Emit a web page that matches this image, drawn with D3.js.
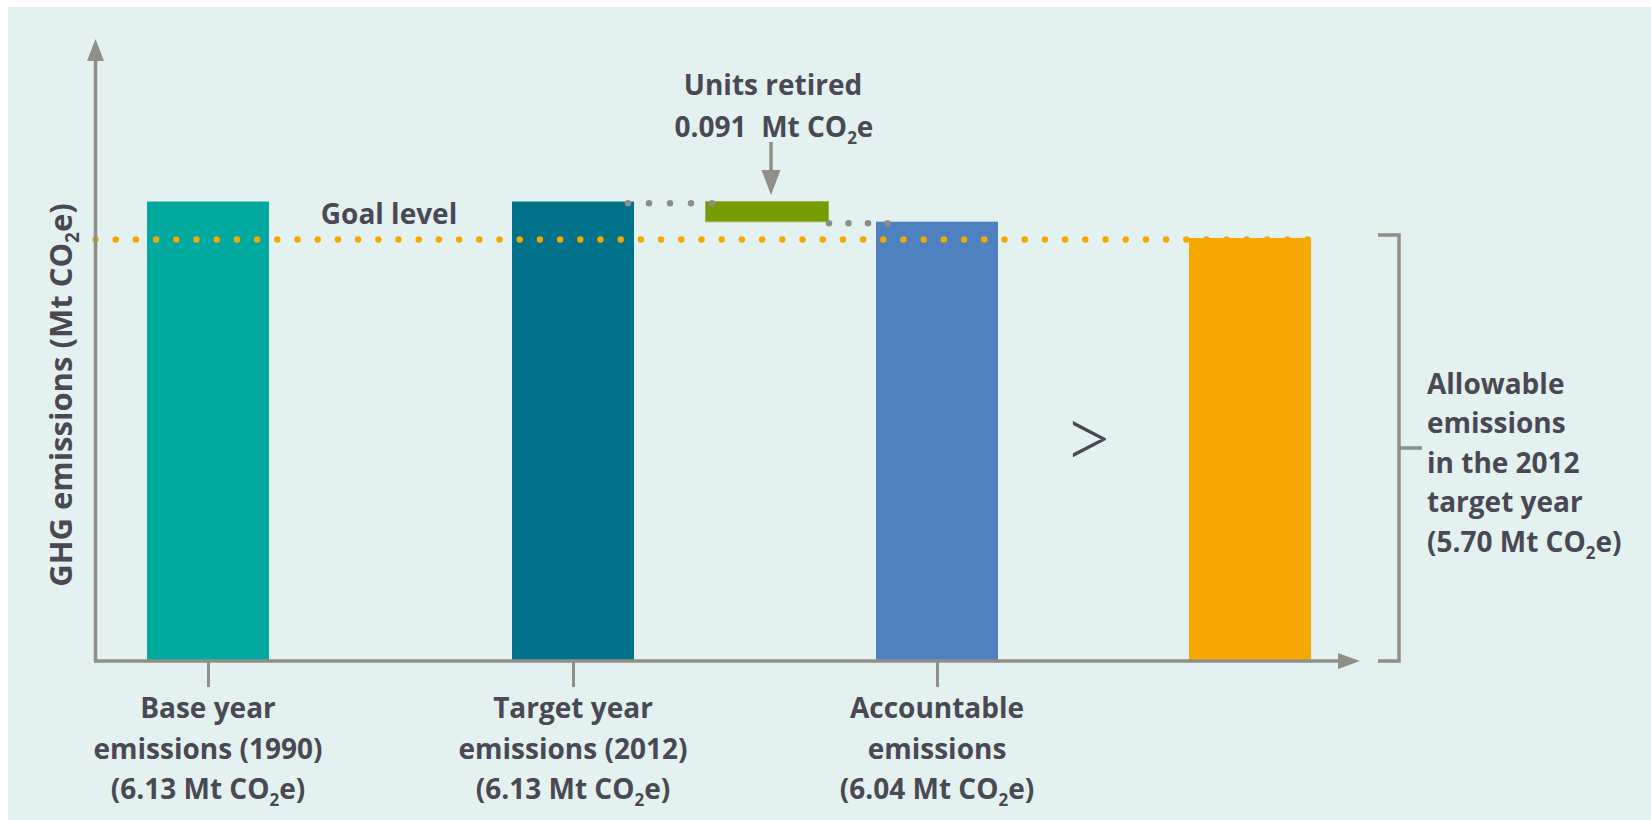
<!DOCTYPE html>
<html>
<head>
<meta charset="utf-8">
<script src="https://cdn.jsdelivr.net/npm/d3@7"></script>
<style>
  html, body { margin: 0; padding: 0; background: #ffffff; }
  svg { display: block; }
  text { font-family: "Open Sans", "Noto Sans", sans-serif; font-weight: 700; fill: #4a4953; }
</style>
</head>
<body>
<svg id="chart" width="1651" height="820"></svg>
<script>
// ---- Data (Mt CO2e) ----
const categories = ["base", "target", "accountable", "allowable"];
const values = [6.13, 6.13, 6.04, 5.70];
const barColors = ["#00a99e", "#00738a", "#4f81c1", "#f5a800"];
const tickCategories = ["base", "target", "accountable"];
const tickLabels = [
  ["Base year", "emissions (1990)"],
  ["Target year", "emissions (2012)"],
  ["Accountable", "emissions"]
];
const allowableLabel = ["Allowable", "emissions", "in the 2012", "target year"];
const unitsRetired = 0.091;
const goalLevel = 5.70;
const yAxisTitle = "GHG emissions (Mt CO2e)";
const goalTitle = "Goal level";
const retiredTitle = "Units retired";

// ---- Layout ----
const W = 1651, H = 820;
const axisX = 95.5, axisY = 661;
const barW = 122;
const axisColor = "#8f8f87";

const svg = d3.select("#chart");

svg.append("rect")
  .attr("x", 8).attr("y", 7)
  .attr("width", W - 8).attr("height", H - 7)
  .attr("fill", "#e3f1f0");

// Category centres (retired units sit between target and accountable)
const x = d3.scaleOrdinal()
  .domain(["base", "target", "retired", "accountable", "allowable"])
  .range([208, 573, 766, 937, 1250]);

// Schematic (piecewise) value axis: zero at the baseline, reference levels spread apart
const y = d3.scaleLinear()
  .domain([0, goalLevel, values[2], values[0]])
  .range([axisY, 238, 221.7, 201.5]);

// Text helper: renders "CO2" with a subscript 2
function rich(sel, str, fs) {
  const parts = str.split("CO2");
  const shift = Math.round(fs * 0.24);
  parts.forEach((p, i) => {
    let reset = false;
    if (i > 0) {
      sel.append("tspan").text("CO");
      sel.append("tspan").attr("dy", shift).attr("font-size", Math.round(fs * 0.62)).text("2");
      reset = true;
    }
    if (p) {
      const t = sel.append("tspan").text(p);
      if (reset) t.attr("dy", -shift);
    }
  });
}
const fmt = d3.format(".2f");

// ---- Bars ----
svg.append("g").selectAll("rect")
  .data(categories)
  .join("rect")
  .attr("x", d => x(d) - barW / 2)
  .attr("y", (d, i) => y(values[i]))
  .attr("width", barW)
  .attr("height", (d, i) => axisY - y(values[i]))
  .attr("fill", (d, i) => barColors[i]);

// Retired units: floating segment from target-year level down by the retired amount
const retiredTop = values[1];
const retiredBottom = values[1] - unitsRetired;
svg.append("rect")
  .attr("x", x("retired") - barW / 2 + 0.5)
  .attr("y", y(retiredTop))
  .attr("width", barW + 1)
  .attr("height", y(retiredBottom) - y(retiredTop))
  .attr("fill", "#789b00")
  .attr("stroke", "#98b552")
  .attr("stroke-width", 1);

// Grey dotted connectors
const connectors = [
  { x1: x("target") + barW / 2 - 6, x2: x("retired") - barW / 2 + 9, v: retiredTop, dy: 1.8, gap: 21 },
  { x1: x("retired") + barW / 2 + 2, x2: x("accountable") - barW / 2 + 12, v: retiredBottom, dy: 1.5, gap: 19.5 }
];
svg.append("g").selectAll("line")
  .data(connectors)
  .join("line")
  .attr("x1", d => d.x1).attr("x2", d => d.x2)
  .attr("y1", d => y(d.v) + d.dy)
  .attr("y2", d => y(d.v) + d.dy)
  .attr("stroke", "#8e8e88")
  .attr("stroke-width", 6.5)
  .attr("stroke-linecap", "round")
  .attr("stroke-dasharray", d => `0 ${d.gap}`);

// Goal level dotted line
svg.append("line")
  .attr("x1", axisX).attr("x2", x("allowable") + barW / 2)
  .attr("y1", y(goalLevel) + 1.5).attr("y2", y(goalLevel) + 1.5)
  .attr("stroke", "#f5a800")
  .attr("stroke-width", 6.5)
  .attr("stroke-linecap", "round")
  .attr("stroke-dasharray", "0 20.2");

// ---- Axes ----
const axes = svg.append("g");
axes.append("line")
  .attr("x1", axisX).attr("x2", axisX)
  .attr("y1", axisY + 1.5).attr("y2", 58)
  .attr("stroke", axisColor).attr("stroke-width", 3.5);
axes.append("path")
  .attr("d", `M${axisX},39 L${axisX - 8.5},61 L${axisX + 8.5},61 Z`)
  .attr("fill", axisColor);
axes.append("line")
  .attr("x1", axisX - 1.5).attr("x2", 1340)
  .attr("y1", axisY).attr("y2", axisY)
  .attr("stroke", axisColor).attr("stroke-width", 3.5);
axes.append("path")
  .attr("d", `M1360,${axisY} L1338,${axisY - 8} L1338,${axisY + 8} Z`)
  .attr("fill", axisColor);

// Category ticks below the baseline
const xAxis = d3.axisBottom(x)
  .tickValues(tickCategories)
  .tickSize(26)
  .tickFormat("");
const gx = svg.append("g").attr("transform", `translate(0,${axisY})`).call(xAxis);
gx.select(".domain").remove();
gx.selectAll(".tick line").attr("stroke", axisColor).attr("stroke-width", 3);

// Category labels
const FS = 28;
tickCategories.forEach((c, i) => {
  const lines = tickLabels[i].concat([`(${fmt(values[categories.indexOf(c)])} Mt CO2e)`]);
  lines.forEach((ln, j) => {
    const t = svg.append("text")
      .attr("x", x(c)).attr("y", 718 + j * 40.5)
      .attr("text-anchor", "middle")
      .attr("font-size", FS);
    rich(t, ln, FS);
  });
});

// Y axis title
const yt = svg.append("text")
  .attr("transform", `translate(72,395) rotate(-90)`)
  .attr("text-anchor", "middle")
  .attr("font-size", 31);
rich(yt, yAxisTitle, 31);

// Goal level label
svg.append("text")
  .attr("x", 389).attr("y", 223.5)
  .attr("text-anchor", "middle")
  .attr("font-size", FS)
  .text(goalTitle);

// Units retired annotation
const ax = x("retired") + 5;
svg.append("text")
  .attr("x", ax + 2).attr("y", 95)
  .attr("text-anchor", "middle")
  .attr("font-size", FS)
  .text(retiredTitle);
const ut = svg.append("text")
  .attr("x", ax + 3).attr("y", 136.5)
  .attr("text-anchor", "middle")
  .attr("font-size", FS)
  .style("white-space", "pre");
rich(ut, `${unitsRetired}  Mt CO2e`, FS);
svg.append("line")
  .attr("x1", ax).attr("x2", ax)
  .attr("y1", 142).attr("y2", 172)
  .attr("stroke", axisColor).attr("stroke-width", 3.5);
svg.append("path")
  .attr("d", `M${ax},195 L${ax - 9.5},170 L${ax + 9.5},170 Z`)
  .attr("fill", axisColor);

// Comparison sign between accountable and allowable emissions
svg.append("text")
  .attr("x", 1088).attr("y", 469)
  .attr("text-anchor", "middle")
  .attr("font-size", 88)
  .style("font-family", "Lato, 'DejaVu Sans', sans-serif")
  .style("font-weight", 300)
  .text(">");

// Bracket spanning the allowable emissions bar
const bTop = y(values[3]) - 3, bBot = axisY;
const bMid = (bTop + bBot) / 2;
svg.append("path")
  .attr("d", `M1378,${bTop} H1399 V${bBot} H1378 M1399,${bMid} H1422`)
  .attr("fill", "none")
  .attr("stroke", axisColor)
  .attr("stroke-width", 3.5);

// Allowable emissions label
allowableLabel.concat([`(${fmt(values[3])} Mt CO2e)`]).forEach((ln, j) => {
  const t = svg.append("text")
    .attr("x", 1427).attr("y", 393.5 + j * 39.6)
    .attr("font-size", FS);
  rich(t, ln, FS);
});
</script>
</body>
</html>
